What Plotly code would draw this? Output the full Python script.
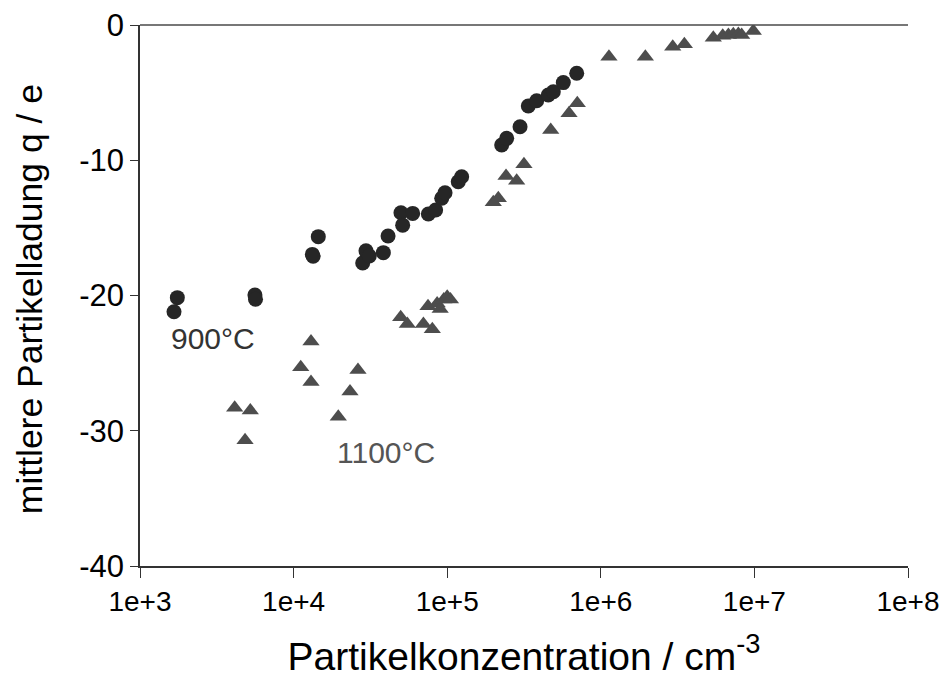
import plotly.graph_objects as go

# 900°C series (circles)
x900 = [1665, 1750, 5600, 5650, 13240, 13400, 14480, 28180, 29600, 31100, 38400, 41200,
        50000, 51300, 59600, 75400, 84100, 92100, 96800, 118000, 124200,
        226300, 243900, 298000, 337300, 382500, 455000, 490600, 570000, 697000]
y900 = [-21.2, -20.16, -19.96, -20.28, -16.96, -17.1, -15.65, -17.6, -16.7, -17.08, -16.83, -15.6,
        -13.88, -14.8, -13.93, -13.97, -13.68, -12.81, -12.4, -11.59, -11.22,
        -8.87, -8.38, -7.52, -5.99, -5.6, -5.18, -4.93, -4.26, -3.57]

# 1100°C series (triangles)
x1100 = [4135, 4830, 5225, 11130, 12980, 12980, 19540, 23290, 26250,
         49800, 55000, 70000, 75000, 80000, 86000, 90000, 95000, 100000, 105000,
         199500, 215200, 241500, 283300, 316000, 472000, 621000, 703000,
         1130000, 1950000, 2940000, 3500000, 5400000, 6220000, 6770000, 7290000,
         7860000, 8260000, 9840000]
y1100 = [-28.3, -30.7, -28.5, -25.3, -23.4, -26.4, -28.96, -27.1, -25.5,
         -21.6, -22.1, -22.1, -20.8, -22.5, -20.6, -21.0, -20.3, -20.1, -20.3,
         -13.11, -12.81, -11.16, -11.51, -10.3, -7.76, -6.53, -5.79,
         -2.34, -2.34, -1.6, -1.43, -0.94, -0.79, -0.74, -0.69,
         -0.67, -0.74, -0.44]

x_ticks = [1e3, 1e4, 1e5, 1e6, 1e7, 1e8]
x_tick_labels = ["1e+3", "1e+4", "1e+5", "1e+6", "1e+7", "1e+8"]
y_ticks = [0, -10, -20, -30, -40]
y_tick_labels = ["0", "-10", "-20", "-30", "-40"]

FONT = "Liberation Sans, Arial, sans-serif"

fig = go.Figure()
fig.add_trace(go.Scatter(x=x900, y=y900, mode="markers", name="900°C",
                         marker=dict(symbol="circle", size=15, color="#262626")))
fig.add_trace(go.Scatter(x=x1100, y=y1100, mode="markers", name="1100°C",
                         marker=dict(symbol="triangle-up", size=15, color="#4d4d4d")))

fig.add_annotation(x=3.475, y=-23.15, xref="x", yref="y", text="900°C", showarrow=False,
                   font=dict(family=FONT, size=30, color="#333333"))
fig.add_annotation(x=4.602, y=-31.6, xref="x", yref="y", text="1100°C", showarrow=False,
                   font=dict(family=FONT, size=30, color="#555555"))
# y-axis title placed as a rotated annotation to match the reference position
fig.add_annotation(x=-0.143, y=0.4935, xref="paper", yref="paper",
                   text="mittlere Partikelladung q / e", textangle=-90, showarrow=False,
                   xanchor="center", yanchor="middle",
                   font=dict(family=FONT, size=35.5, color="black"))

fig.update_layout(
    width=931, height=672,
    margin=dict(l=132, r=31, t=17, b=114),
    paper_bgcolor="white", plot_bgcolor="white",
    showlegend=False,
    font=dict(family=FONT, size=32, color="black"),
)
fig.update_xaxes(type="log", range=[3, 8], tickvals=x_ticks, ticktext=x_tick_labels,
                 automargin=False,
                 showgrid=False, zeroline=False, showline=True, linecolor="#333333", linewidth=1.5,
                 ticks="outside", ticklen=10, tickcolor="#333333", ticklabeloverflow="allow",
                 title=dict(text="Partikelkonzentration / cm<sup>-3</sup>", standoff=26,
                            font=dict(size=39)),
                 tickfont=dict(size=28))
fig.update_yaxes(range=[-40, 0], tickvals=y_ticks, ticktext=y_tick_labels, showgrid=False,
                 automargin=False,
                 zeroline=True, zerolinecolor="#777777", zerolinewidth=1.5,
                 showline=True, linecolor="#333333", linewidth=1.5,
                 ticks="outside", ticklen=8, tickcolor="#333333", ticklabeloverflow="allow",
                 tickfont=dict(size=31))

fig.write_html("out.html")
